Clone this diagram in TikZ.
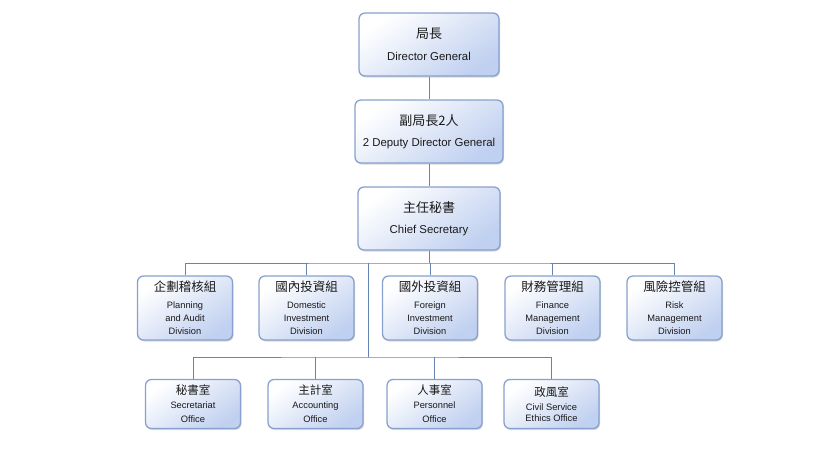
\documentclass[tikz,border=0pt]{standalone}
\usepackage{fontspec}
\setmainfont{Liberation Sans}
\newfontfamily\cjk{Noto Sans CJK TC}
\usetikzlibrary{shadows,positioning,calc}
\definecolor{boxedge}{RGB}{135,160,205}
\definecolor{boxfill}{RGB}{192,208,240}
\definecolor{linkline}{RGB}{100,132,178}
\definecolor{textgray}{RGB}{25,25,25}
\newcommand{\zh}[2]{{\cjk\fontsize{#1}{#1}\selectfont #2}}

\tikzset{
  orgbox/.style={draw=boxedge, line width=0.45mm, rounded corners=6pt, inner sep=0pt,
    align=center, text=textgray, top color=white, bottom color=boxfill, shading angle=35,
    drop shadow={shadow xshift=1pt, shadow yshift=-1.5pt, opacity=0.3}},
  headbox/.style={orgbox, minimum height=63pt, font=\fontsize{11.4}{21.5}\selectfont},
  divbox/.style={orgbox, minimum width=95pt, minimum height=64pt, font=\fontsize{9.3}{13}\selectfont},
  officebox/.style={orgbox, minimum width=95pt, minimum height=49pt, font=\fontsize{9.3}{14}\selectfont},
  link/.style={draw=linkline, line width=0.3mm}
}

\begin{document}
\begin{tikzpicture}[x=1pt, y=-1pt]
   \useasboundingbox (0,0) rectangle (837,464);

   \node[headbox, minimum width=140pt] (dg)  at (429,44.5)  {\zh{13}{局長}\\Director General};
   \node[headbox, minimum width=148pt] (ddg) at (429,131.5) {\zh{13}{副局長2人}\\2 Deputy Director General};
   \node[headbox, minimum width=142pt] (cs)  at (429,218.5) {\zh{13}{主任秘書}\\Chief Secretary};

   \node[divbox] (pad) at (185,308)   {\zh{12.5}{企劃稽核組}\\[4pt]Planning\\and Audit\\Division};
   \node[divbox] (did) at (306.5,308) {\zh{12.5}{國內投資組}\\[4pt]Domestic\\Investment\\Division};
   \node[divbox] (fid) at (430,308)   {\zh{12.5}{國外投資組}\\[4pt]Foreign\\Investment\\Division};
   \node[divbox] (fmd) at (552.5,308) {\zh{12.5}{財務管理組}\\[4pt]Finance\\Management\\Division};
   \node[divbox] (rmd) at (674.5,308) {\zh{12.5}{風險控管組}\\[4pt]Risk\\Management\\Division};

   \node[officebox] (sec) at (193,404)   {\zh{11.5}{秘書室}\\Secretariat\\Office};
   \node[officebox] (acc) at (315.5,404) {\zh{11.5}{主計室}\\Accounting\\Office};
   \node[officebox] (per) at (434.5,404) {\zh{11.5}{人事室}\\Personnel\\Office};
   \node[officebox] (eth) at (551.5,404) {\zh{11.5}{政風室}\\Civil Service\\[-3pt]Ethics Office};

   \coordinate (bus)    at (429,263);
   \coordinate (split)  at (368,263);
   \coordinate (lowbus) at (368,357);

   \draw[link] (dg) -- (ddg);
   \draw[link] (ddg) -- (cs);
   \draw[link] (cs.south) -- (bus);
   \draw[link] (pad.north) |- (bus) -| (rmd.north);
   \foreach \n in {did,fid,fmd}
      \draw[link] (\n.north) -- (\n.north |- bus);
   \draw[link] (split) -- (lowbus);
   \draw[link] (sec.north) |- (lowbus) -| (eth.north);
   \foreach \n in {acc,per}
      \draw[link] (\n.north) -- (\n.north |- lowbus);

\end{tikzpicture}
\end{document}
